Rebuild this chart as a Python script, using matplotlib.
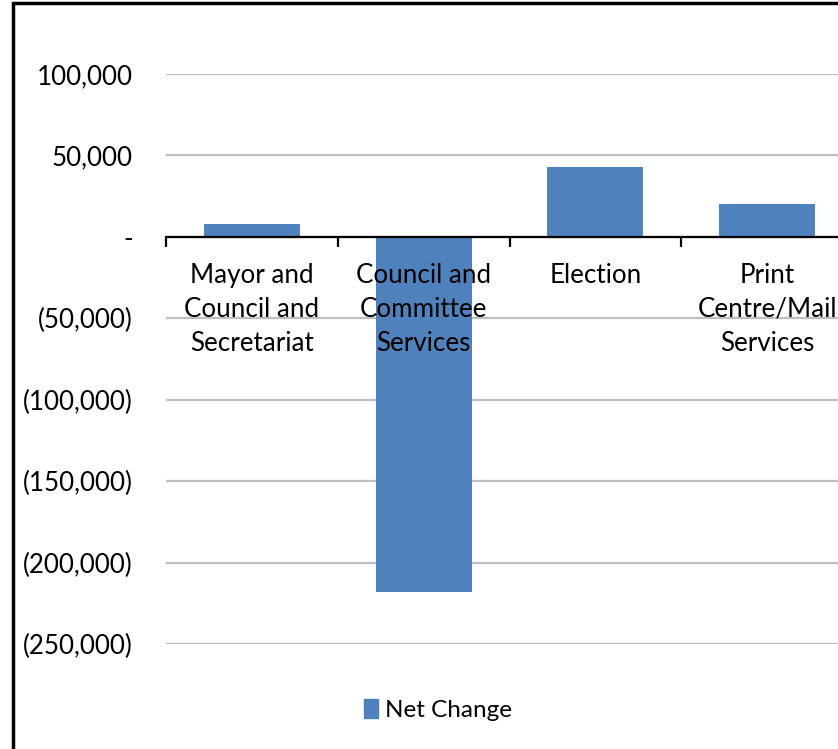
import matplotlib.pyplot as plt
from matplotlib.ticker import FuncFormatter
from matplotlib.patches import Rectangle

categories = ['Mayor and\nCouncil and\nSecretariat', 'Council and\nCommittee\nServices',
              'Election', 'Print\nCentre/Mail\nServices']
net_change = [8000, -218000, 43000, 20000]
y_ticks = [100000, 50000, 0, -50000, -100000, -150000, -200000, -250000]

plt.rcParams['font.family'] = ['Lato', 'DejaVu Sans']
BLUE = '#4F81BD'
W, H = 838, 749


def money(v, pos):
    if v == 0:
        return '-'
    if v < 0:
        return f'({abs(v):,.0f})'
    return f'{v:,.0f}'


fig = plt.figure(figsize=(W / 100, H / 100), dpi=100)
ax = fig.add_axes([166 / W, (H - 644) / H, (853 - 166) / W, (644 - 74) / H])
ax.set_axisbelow(True)

x = list(range(len(categories)))
ax.bar(x, net_change, width=0.56, color=BLUE, zorder=1)

ax.set_xlim(-0.5, 3.5)
ax.set_ylim(-250000, 100000)
ax.set_yticks(y_ticks)
ax.yaxis.set_major_formatter(FuncFormatter(money))
ax.grid(axis='y', color='#BFBFBF', linewidth=1.6)
ax.tick_params(axis='y', length=0, pad=24, labelsize=18.7)

for s in ['top', 'right', 'left']:
    ax.spines[s].set_visible(False)
ax.spines['bottom'].set_position(('data', 0))
ax.spines['bottom'].set_linewidth(1.6)
ax.spines['bottom'].set_zorder(4)

ax.set_xticks([-0.5, 0.5, 1.5, 2.5])
ax.set_xticklabels([])
ax.tick_params(axis='x', which='major', direction='out', length=7, width=1.6)

# category labels sit on top of the bars, so draw them as text
for i, name in enumerate(categories):
    ax.annotate(name, (i, 0), xytext=(0, -18.5), textcoords='offset points',
                ha='center', va='top', fontsize=18.7, linespacing=1.47, zorder=5)

fig.legend([Rectangle((0, 0), 1, 1, color=BLUE)], ['Net Change'],
           loc='center', bbox_to_anchor=(438 / W, (H - 710) / H),
           frameon=False, fontsize=17.5, handlelength=0.6, handleheight=0.8,
           handletextpad=0.3)

# outer chart border (right and bottom edges fall outside the image)
fig.patches.append(Rectangle((13 / W, -0.1), 1.2, 1.1 - 3 / H, transform=fig.transFigure,
                             fill=False, edgecolor='black', linewidth=2.5))

plt.savefig('out.png', dpi=100)
